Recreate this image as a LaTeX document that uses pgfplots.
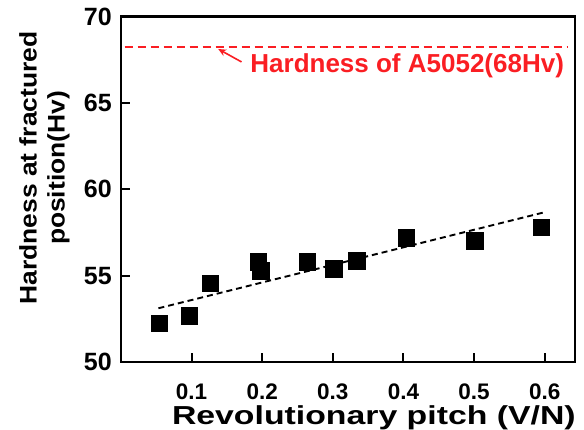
\documentclass[border=0pt]{standalone}
\usepackage{pgfplots}
\pgfplotsset{compat=1.18}
\usetikzlibrary{arrows.meta}
\usepackage{graphicx}
\usepackage{fontspec}
\setmainfont{Liberation Sans}
\definecolor{myred}{RGB}{250,30,35}
\begin{document}
\begin{tikzpicture}
\path[use as bounding box] (-121pt,-68pt) rectangle (463pt,362pt);
\begin{axis}[
  at={(0,0)}, anchor=south west,
  scale only axis, width=454pt, height=345.5pt,
  xmin=0, xmax=0.643, ymin=50, ymax=70,
  xtick={0.1,0.2,0.3,0.4,0.5,0.6},
  ytick={50,55,60,65,70},
  xticklabels={0.1,0.2,0.3,0.4,0.5,0.6},
  tick align=inside, xtick pos=bottom, ytick pos=left,
  major tick length=9pt,
  axis line style={line width=2.6pt},
  every tick/.style={black, line width=2pt},
  /pgf/number format/assume math mode=true,
  xticklabel style={font=\fontsize{22.5}{22.5}\selectfont\bfseries, anchor=north, inner sep=0pt, yshift=-22pt},
  yticklabel style={font=\fontsize{25}{25}\selectfont\bfseries, anchor=east, inner sep=0pt, xshift=-9pt},
  xlabel={\scalebox{1.3}[1]{\fontsize{26}{26}\selectfont\bfseries Revolutionary pitch (V/N)}},
  xlabel style={at={(axis description cs:0.557,-0.1823)}, anchor=base, inner sep=0pt},
  ylabel={\scalebox{1.1}[1]{\fontsize{24}{28}\selectfont\bfseries\begin{tabular}{@{}c@{}}Hardness at fractured\\position(Hv)\end{tabular}}},
  ylabel style={at={(axis description cs:-0.1674,0.5615)}, anchor=center, inner sep=0pt},
  clip=false,
]
% reference hardness line
\addplot[myred, line width=2pt, dash pattern=on 8pt off 5pt] coordinates {(0.005,68.26) (0.632,68.26)};
% trend line
\addplot[black, line width=1.9pt, dash pattern=on 6pt off 4pt] coordinates {(0.053,53.11) (0.600,58.67)};
% data
\addplot[only marks, mark=square*, mark size=8.2pt, black] coordinates {
(0.054,52.24) (0.097,52.68) (0.126,54.56) (0.194,55.81) (0.198,55.29)
(0.264,55.81) (0.301,55.39) (0.334,55.87) (0.404,57.20) (0.501,57.03) (0.595,57.80)};
\draw[myred, line width=1.6pt, -{Stealth[length=8pt,width=7pt]}] (axis cs:0.1707,67.37) -- (axis cs:0.1376,68.12);
\node[anchor=west, inner sep=0pt, text=myred, font=\fontsize{26}{26}\selectfont\bfseries] at (axis cs:0.183,67.12) {Hardness of A5052(68Hv)};
\end{axis}
\end{tikzpicture}
\end{document}
